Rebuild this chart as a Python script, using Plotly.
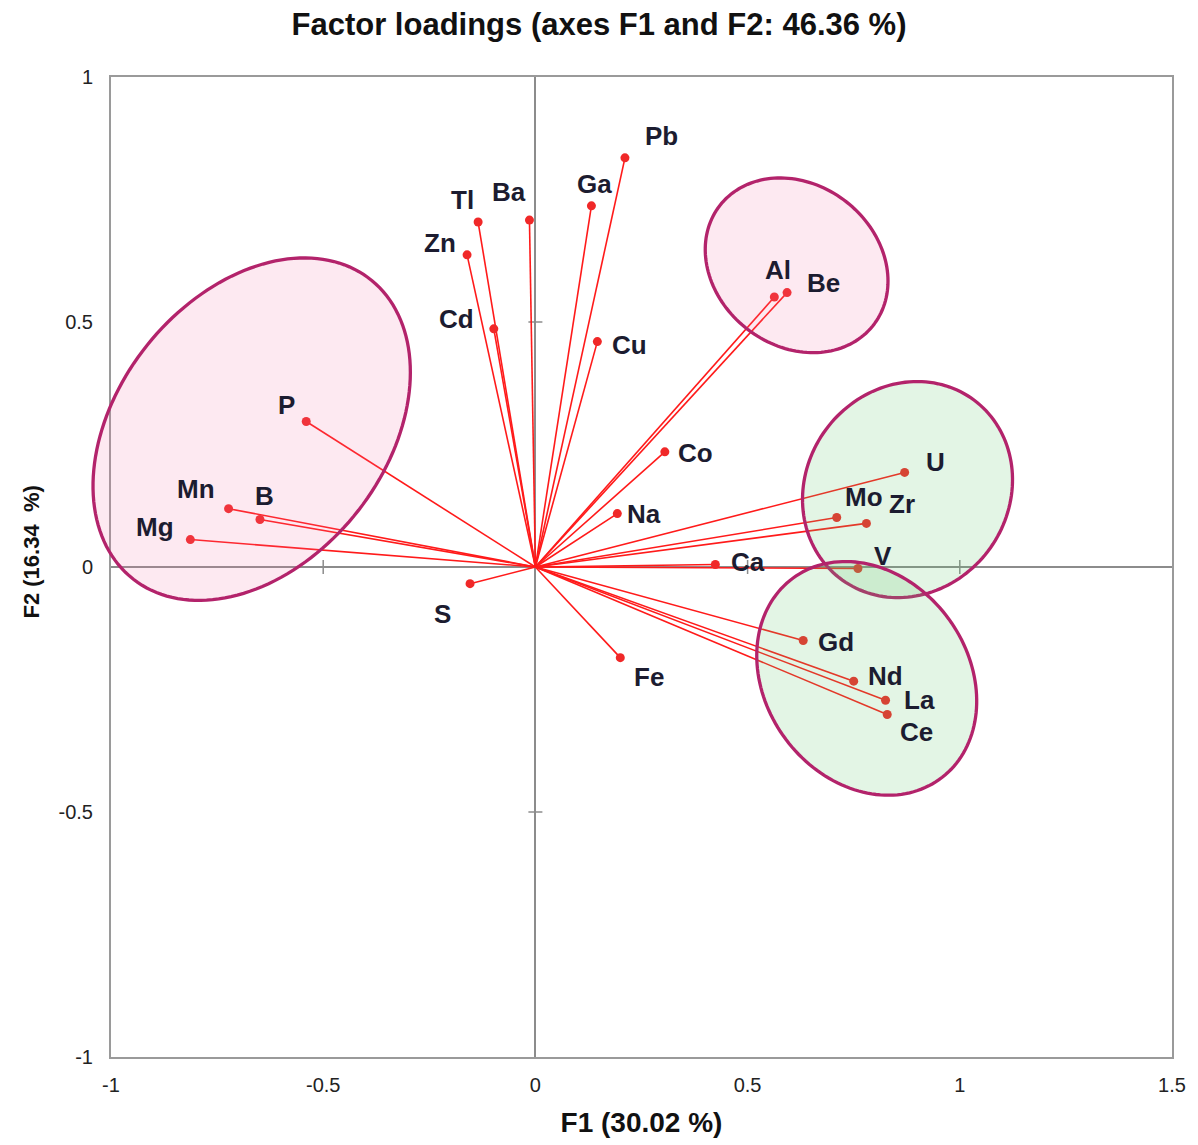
import numpy as np
import plotly.graph_objects as go

# ---- data ----
elements = ["Pb", "Ga", "Ba", "Tl", "Zn", "Cd", "Cu", "Al", "Be", "P", "Mn", "B", "Mg",
            "S", "Co", "Na", "Ca", "V", "U", "Mo", "Zr", "Gd", "Nd", "La", "Ce", "Fe"]
f1 = [0.211, 0.132, -0.014, -0.135, -0.161, -0.098, 0.146, 0.563, 0.593, -0.540, -0.723, -0.649, -0.813,
      -0.154, 0.305, 0.193, 0.424, 0.760, 0.870, 0.710, 0.780, 0.631, 0.750, 0.825, 0.829, 0.200]
f2 = [0.835, 0.737, 0.708, 0.704, 0.637, 0.486, 0.460, 0.551, 0.560, 0.297, 0.119, 0.097, 0.056,
      -0.034, 0.235, 0.109, 0.005, -0.003, 0.193, 0.101, 0.089, -0.150, -0.233, -0.272, -0.301, -0.185]
x_ticks = [-1, -0.5, 0, 0.5, 1, 1.5]
y_ticks = [-1, -0.5, 0, 0.5, 1]
x_tick_labels = ["-1", "-0.5", "0", "0.5", "1", "1.5"]
y_tick_labels = ["-1", "-0.5", "0", "0.5", "1"]

# ---- style ----
W, H = 1198, 1145
ML, MR, MT, MB = 111, 15, 77, 87
XR = [-1, 1.5]
YR = [-1, 1]
sx = (W - ML - MR) / (XR[1] - XR[0])
sy = (H - MT - MB) / (YR[1] - YR[0])
FONT = "Liberation Sans, Arial"

# label offsets in pixels (dx right, dy down)
label_offsets = {
    "Pb": (37, -22), "Ga": (3, -22), "Ba": (-20, -28), "Tl": (-16, -22), "Zn": (-27, -12),
    "Cd": (-37, -10), "Cu": (32, 3), "Al": (4, -27), "Be": (36, -10), "P": (-20, -16),
    "Mn": (-33, -20), "B": (5, -23), "Mg": (-35, -13), "S": (-28, 30), "Co": (31, 1),
    "Na": (27, 0), "Ca": (33, -3), "V": (25, -12), "U": (31, -10), "Mo": (27, -21),
    "Zr": (36, -19), "Gd": (33, 1), "Nd": (32, -5), "La": (34, 0), "Ce": (29, 18), "Fe": (29, 19),
}

# ellipses: center (data), semi-axes (px), angle (deg), fill
PINK = "rgba(245,120,170,0.16)"
GREEN = "rgba(100,200,110,0.18)"
ellipses = [
    dict(c=(-0.6685, 0.2813), a=192, b=135, th=50.7, fill=PINK),
    dict(c=(0.6155, 0.6157), a=98, b=81, th=-36.6, fill=PINK),
    dict(c=(0.8768, 0.158), a=112, b=102, th=50.9, fill=GREEN),
    dict(c=(0.7807, -0.2273), a=125, b=102, th=-52.4, fill=GREEN),
]


def ellipse_path(e, n=160):
    t = np.linspace(0, 2 * np.pi, n)
    th = np.deg2rad(e["th"])
    dx = e["a"] * np.cos(t) * np.cos(th) - e["b"] * np.sin(t) * np.sin(th)
    dy = e["a"] * np.cos(t) * np.sin(th) + e["b"] * np.sin(t) * np.cos(th)
    xs = e["c"][0] + dx / sx
    ys = e["c"][1] + dy / sy
    # convert data -> paper so the shape is not clipped by the plot area
    px = (xs - XR[0]) / (XR[1] - XR[0])
    py = (ys - YR[0]) / (YR[1] - YR[0])
    pts = [f"{x:.5f},{y:.5f}" for x, y in zip(px, py)]
    return "M " + " L ".join(pts) + " Z"


fig = go.Figure()

shapes = []
for e in ellipses:
    shapes.append(dict(type="path", path=ellipse_path(e), xref="paper", yref="paper",
                       fillcolor=e["fill"], line=dict(color="#B3236B", width=3.3), layer="above"))
# zero-line tick marks
for xv in x_ticks:
    if xv != 0 and XR[0] < xv < XR[1]:
        shapes.append(dict(type="line", xref="x", yref="y", ysizemode="pixel", yanchor=0,
                           x0=xv, x1=xv, y0=-7, y1=7, line=dict(color="#8c8c8c", width=1.5),
                           layer="below"))
for yv in y_ticks:
    if yv != 0 and YR[0] < yv < YR[1]:
        shapes.append(dict(type="line", xref="x", yref="y", xsizemode="pixel", xanchor=0,
                           x0=-7, x1=7, y0=yv, y1=yv, line=dict(color="#8c8c8c", width=1.5),
                           layer="below"))

# vectors
lx, ly = [], []
for a, b in zip(f1, f2):
    lx += [0, a, None]
    ly += [0, b, None]
fig.add_trace(go.Scatter(x=lx, y=ly, mode="lines", line=dict(color="#FF1a1a", width=1.6),
                         hoverinfo="skip", showlegend=False))
fig.add_trace(go.Scatter(x=f1, y=f2, mode="markers", marker=dict(color="#F02828", size=9),
                         text=elements, showlegend=False))

annotations = []
for name, a, b in zip(elements, f1, f2):
    dx, dy = label_offsets[name]
    annotations.append(dict(x=a, y=b, xref="x", yref="y", text=f"<b>{name}</b>", showarrow=False,
                            xshift=dx, yshift=-dy, xanchor="center", yanchor="middle",
                            font=dict(family=FONT, size=26, color="#1c1c30")))
# y-axis title as annotation (placed a bit above the plot centre, as in the reference)
annotations.append(dict(x=0, y=1 - (553 - MT) / (H - MT - MB), xref="paper", yref="paper",
                        xshift=-(ML - 32), text="<b>F2 (16.34  %)</b>", textangle=-90,
                        showarrow=False, xanchor="center", yanchor="middle",
                        font=dict(family=FONT, size=22, color="#111111")))

fig.update_layout(
    width=W, height=H,
    margin=dict(l=ML, r=MR, t=MT, b=MB, pad=0),
    paper_bgcolor="white", plot_bgcolor="white",
    title=dict(text="<b>Factor loadings (axes F1 and F2: 46.36 %)</b>", x=0.5, xanchor="center",
               y=1 - 24 / H, yanchor="middle",
               font=dict(family=FONT, size=31, color="#111111")),
    shapes=shapes,
    annotations=annotations,
    font=dict(family=FONT, color="#222222"),
)
fig.update_xaxes(range=XR, tickvals=x_ticks, ticktext=x_tick_labels, showgrid=False,
                 zeroline=True, zerolinecolor="#8c8c8c", zerolinewidth=1.5,
                 showline=True, linecolor="#9a9a9a", linewidth=2, mirror=True, ticks="",
                 tickfont=dict(size=20, color="#222222"), ticklabelstandoff=9,
                 title=dict(text="<b>F1 (30.02 %)</b>", font=dict(size=28, color="#111111"), standoff=17))
fig.update_yaxes(range=YR, tickvals=y_ticks, ticktext=y_tick_labels, showgrid=False,
                 zeroline=True, zerolinecolor="#8c8c8c", zerolinewidth=1.5,
                 showline=True, linecolor="#9a9a9a", linewidth=2, mirror=True, ticks="",
                 tickfont=dict(size=20, color="#222222"), ticklabelstandoff=12)

fig.write_html("out.html")
